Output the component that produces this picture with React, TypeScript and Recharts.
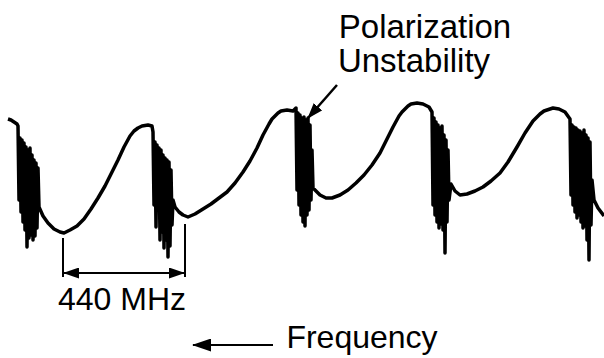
import { LineChart, Line, XAxis, YAxis, ReferenceLine, ReferenceDot } from 'recharts';

// trace: [frequency position, depth below top]
const rampIn: [number, number][] = [[8, 119], [11, 120], [14, 122], [17, 124]];
const burstA: [number, number][] = [
  [18, 126], [19, 200], [20, 138], [21, 212], [22, 140], [23, 222], [24, 143], [25, 230], [26, 147], [27, 247],
  [28, 150], [29, 238], [30, 148], [31, 235], [32, 155], [33, 240], [34, 160], [35, 236], [36, 163], [37, 228], [38, 168],
];
const sweepA: [number, number][] = [
  [39, 207], [43, 216], [48, 223], [54, 229], [60, 232], [64, 233], [70, 230], [77, 226], [84, 219], [91, 209],
  [98, 198], [105, 186], [112, 172], [118, 160], [124, 147], [130, 136], [134, 131], [138, 128], [142, 126], [148, 125], [152, 126],
];
const burstB: [number, number][] = [
  [153, 132], [154, 205], [155, 142], [156, 227], [157, 145], [158, 210], [159, 148], [160, 240], [161, 150], [162, 232],
  [163, 155], [164, 248], [165, 158], [166, 240], [167, 160], [168, 257], [169, 162], [170, 246], [171, 170], [172, 225], [173, 200],
];
const sweepB: [number, number][] = [
  [175, 207], [179, 212], [183, 215], [188, 217], [195, 214], [203, 209], [211, 204], [219, 198], [227, 192], [235, 183],
  [243, 172], [250, 161], [257, 148], [263, 135], [269, 124], [272, 119], [275, 116], [278, 113], [281, 111], [287, 110], [293, 111], [296, 108],
];
const burstC: [number, number][] = [
  [297, 190], [298, 113], [299, 205], [300, 115], [301, 215], [302, 118], [303, 222], [304, 117], [305, 226], [306, 120],
  [307, 215], [308, 118], [309, 210], [310, 125], [311, 200], [312, 150], [313, 188],
];
const sweepC: [number, number][] = [
  [315, 190], [320, 195], [326, 198], [332, 198], [340, 195], [348, 190], [356, 183], [364, 175], [372, 165], [380, 153],
  [387, 139], [393, 127], [399, 116], [402, 112], [405, 109], [408, 106], [411, 104], [417, 103], [423, 104], [429, 107], [432, 112],
];
const burstD: [number, number][] = [
  [433, 205], [434, 118], [435, 215], [436, 122], [437, 222], [438, 125], [439, 228], [440, 128], [441, 224], [442, 126],
  [443, 230], [444, 135], [445, 253], [446, 140], [447, 222], [448, 150], [449, 200],
];
const sweepD: [number, number][] = [
  [451, 184], [455, 191], [460, 195], [467, 194], [475, 191], [483, 187], [491, 181], [500, 173], [508, 162], [517, 147],
  [525, 133], [533, 121], [537, 117], [540, 114], [544, 111], [547, 110], [553, 108], [559, 109], [565, 112], [570, 119],
];
const burstE: [number, number][] = [
  [571, 195], [572, 125], [573, 205], [574, 127], [575, 212], [576, 128], [577, 218], [578, 130], [579, 215], [580, 131],
  [581, 222], [582, 133], [583, 228], [584, 130], [585, 226], [586, 135], [587, 240], [588, 138], [589, 260], [590, 142],
  [591, 225], [592, 180],
];
const sweepE: [number, number][] = [[594, 200], [598, 208], [604, 216]];

// annotation positions
const spanLeft = 63;
const spanRight = 185;
const spanY = 273;
const spanLabel = '440 MHz';
const noteLines = ['Polarization', 'Unstability'];
const axisLabel = 'Frequency';

const data = [rampIn, burstA, sweepA, burstB, sweepB, burstC, sweepC, burstD, sweepD, burstE, sweepE]
  .flat()
  .map(([f, d]) => ({ f, d }));

const font = '"Liberation Sans", Arial, sans-serif';
const txt = (value: string, size: number) => ({ value, position: 'center' as const, fontSize: size, fill: '#000', fontFamily: font });

export default function App() {
  return (
    <div>
      <style>{'body{margin:0;background:#fff}'}</style>
      <LineChart width={604} height={358} data={data} margin={{ top: 0, right: 0, bottom: 0, left: 0 }}>
        <defs>
          <marker id="head" viewBox="0 0 16 11" refX="15" refY="5.5" markerWidth="16" markerHeight="11"
            markerUnits="userSpaceOnUse" orient="auto-start-reverse">
            <path d="M0,0 L16,5.5 L0,11 z" fill="#000" />
          </marker>
          <marker id="headBig" viewBox="0 0 19 13" refX="18" refY="6.5" markerWidth="19" markerHeight="13"
            markerUnits="userSpaceOnUse" orient="auto-start-reverse">
            <path d="M0,0 L19,6.5 L0,13 z" fill="#000" />
          </marker>
        </defs>
        <XAxis type="number" dataKey="f" domain={[0, 604]} allowDataOverflow hide />
        <YAxis type="number" domain={[0, 358]} allowDataOverflow reversed hide />
        <Line type="linear" dataKey="d" stroke="#000" strokeWidth={3.5} strokeLinejoin="round"
          dot={false} activeDot={false} legendType="none" isAnimationActive={false} />

        <ReferenceLine segment={[{ x: spanLeft, y: 238 }, { x: spanLeft, y: 277 }]} stroke="#000" strokeWidth={2} />
        <ReferenceLine segment={[{ x: spanRight, y: 224 }, { x: spanRight, y: 277 }]} stroke="#000" strokeWidth={2} />
        <ReferenceLine segment={[{ x: spanLeft + 1, y: spanY }, { x: spanRight - 1, y: spanY }]} stroke="#000" strokeWidth={2}
          markerStart="url(#head)" markerEnd="url(#head)" />
        <ReferenceLine segment={[{ x: 337, y: 85 }, { x: 308, y: 118 }]} stroke="#000" strokeWidth={2.5} markerEnd="url(#head)" />
        <ReferenceLine segment={[{ x: 273, y: 345 }, { x: 193, y: 345 }]} stroke="#000" strokeWidth={2} markerEnd="url(#headBig)" />

        <ReferenceDot x={425} y={26} r={1} fill="none" stroke="none" label={txt(noteLines[0], 33)} />
        <ReferenceDot x={414} y={60} r={1} fill="none" stroke="none" label={txt(noteLines[1], 33)} />
        <ReferenceDot x={122} y={299} r={1} fill="none" stroke="none" label={txt(spanLabel, 32)} />
        <ReferenceDot x={362} y={337} r={1} fill="none" stroke="none" label={txt(axisLabel, 32)} />
      </LineChart>
    </div>
  );
}
